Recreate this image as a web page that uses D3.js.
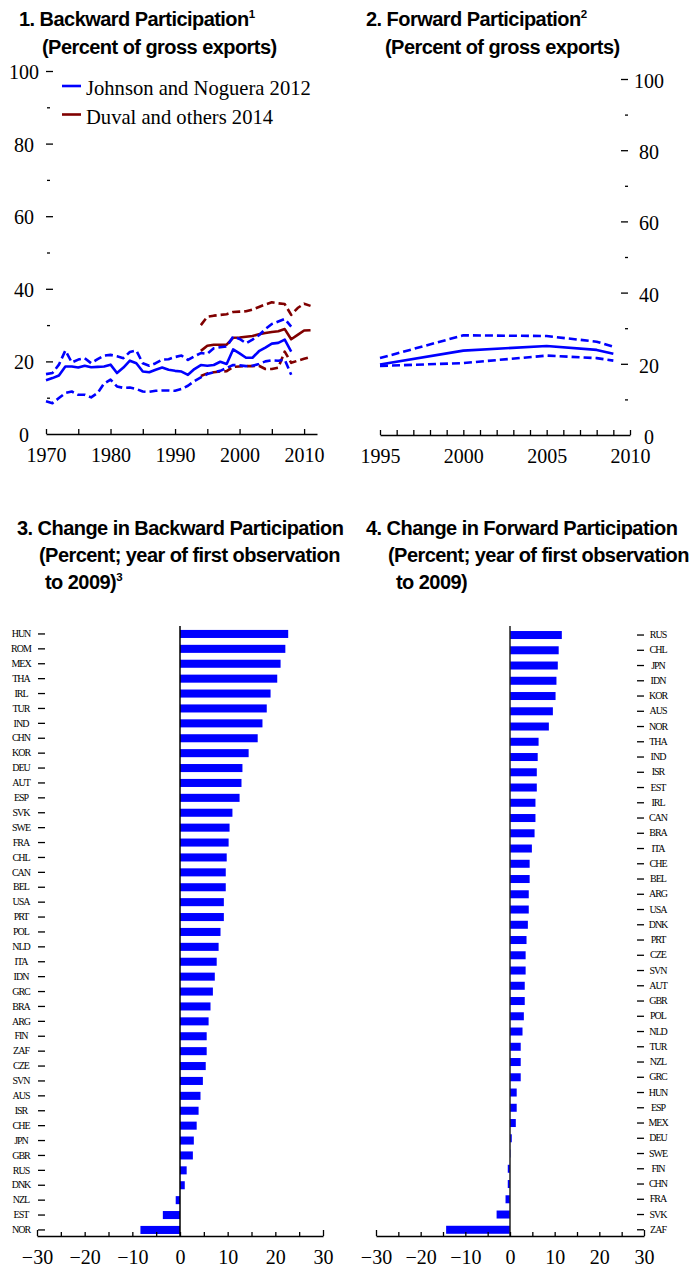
<!DOCTYPE html>
<html><head><meta charset="utf-8">
<script src="https://cdn.jsdelivr.net/npm/d3@7"></script>
<style>body{margin:0;background:#fff}svg{display:block}</style>
</head><body><svg id="c" width="689" height="1270"></svg>
<script>
// ---------- Panel 1 data ----------
const jnYears = [1970,1971,1972,1973,1974,1975,1976,1977,1978,1979,1980,1981,1982,1983,1984,1985,1986,1987,1988,1989,1990,1991,1992,1993,1994,1995,1996,1997,1998,1999,2000,2001,2002,2003,2004,2005,2006,2007,2008];
const jnMedian = [14.8,15.4,16.1,18.6,18.6,18.3,18.8,18.4,18.5,18.6,19.1,16.8,18.3,20.2,19.5,17.2,17.0,17.7,18.3,17.7,17.4,17.2,16.3,17.9,19.0,18.8,19.0,19.9,19.3,23.3,22.2,21.0,21.0,22.8,23.8,24.9,25.1,26.0,22.7];
const jnUpper = [16.5,16.8,19.1,23.0,19.7,20.5,20.9,19.5,20.6,21.6,21.8,21.4,20.9,22.6,23.0,19.5,18.8,19.5,20.5,20.6,21.2,21.6,20.4,21.4,22.3,22.1,23.6,23.9,24.1,26.8,26.2,25.0,26.0,27.2,28.9,30.3,31.0,31.7,29.6];
const jnLower = [9.0,8.5,9.9,11.3,11.7,10.8,10.8,10.1,11.3,13.9,15.0,13.1,12.7,12.8,12.4,11.7,11.6,11.9,12.0,12.0,11.9,12.4,13.3,14.6,15.6,16.5,17.0,17.4,18.2,19.0,18.9,18.7,18.8,19.3,20.0,20.3,20.2,20.5,16.3];
const duvalYears = [1994,1995,1996,1997,1998,1999,2000,2001,2002,2003,2004,2005,2006,2007,2008,2009,2010,2011];
const duvalMedian = [22.9,24.3,24.6,24.6,24.6,26.5,26.6,26.8,27.0,27.5,27.8,28.1,28.3,28.9,26.1,27.3,28.5,28.6];
const duvalUpper = [30.0,32.3,32.6,32.8,33.0,33.6,33.7,33.8,34.3,35.0,35.7,36.3,36.0,35.8,32.8,34.7,35.9,35.3];
const duvalLower = [16.0,16.7,17.0,17.2,17.3,18.5,18.6,18.7,18.7,18.8,17.9,17.9,18.3,22.7,19.6,20.2,20.7,21.2];
const legendLabels = ["Johnson and Noguera 2012","Duval and others 2014"];
const p1XTicks = [1970,1975,1980,1985,1990,1995,2000,2005,2010];
const p1XLabels = [1970,1980,1990,2000,2010];

// ---------- Panel 2 data ----------
const fwdYears = [1995,2000,2005,2008,2009];
const fwdMedian = [19.8,23.7,25.0,23.9,22.8];
const fwdUpper = [21.6,28.0,27.8,26.2,24.8];
const fwdLower = [19.4,20.2,22.3,21.6,20.9];
const p2XTicks = [1995,1996,1997,1998,1999,2000,2001,2002,2003,2004,2005,2006,2007,2008,2009,2010];
const p2XLabels = [1995,2000,2005,2010];

const yMajor = [0,20,40,60,80,100];
const yMinor = [10,30,50,70,90];

// ---------- Panel 3 data ----------
const backCountries = ["HUN","ROM","MEX","THA","IRL","TUR","IND","CHN","KOR","DEU","AUT","ESP","SVK","SWE","FRA","CHL","CAN","BEL","USA","PRT","POL","NLD","ITA","IDN","GRC","BRA","ARG","FIN","ZAF","CZE","SVN","AUS","ISR","CHE","JPN","GBR","RUS","DNK","NZL","EST","NOR"];
const backChange = [22.7,22.1,21.1,20.4,19.0,18.2,17.3,16.3,14.4,13.1,12.9,12.5,11.0,10.4,10.2,9.8,9.6,9.6,9.2,9.2,8.5,8.1,7.7,7.3,6.9,6.4,6.0,5.6,5.6,5.4,4.8,4.3,3.9,3.5,2.9,2.7,1.4,1.0,-0.9,-3.6,-8.3];

// ---------- Panel 4 data ----------
const fwdCountries = ["RUS","CHL","JPN","IDN","KOR","AUS","NOR","THA","IND","ISR","EST","IRL","CAN","BRA","ITA","CHE","BEL","ARG","USA","DNK","PRT","CZE","SVN","AUT","GBR","POL","NLD","TUR","NZL","GRC","HUN","ESP","MEX","DEU","SWE","FIN","CHN","FRA","SVK","ZAF"];
const fwdChange = [11.6,10.9,10.7,10.4,10.2,9.6,8.7,6.4,6.2,6.0,6.0,5.7,5.7,5.5,4.9,4.4,4.4,4.2,4.2,4.0,3.7,3.5,3.5,3.3,3.3,3.1,2.8,2.4,2.4,2.4,1.5,1.5,1.3,0.4,0.1,-0.5,-0.5,-1.0,-3.0,-14.3];
const barTicks = [-30,-25,-20,-15,-10,-5,0,5,10,15,20,25,30];

// ---------- Styles ----------
const BLUE = "#0000ff", RED = "#800000";
const SERIF = "'Liberation Serif','Times New Roman',serif";
const SANS = "'Liberation Sans',Arial,sans-serif";

const svg = d3.select("#c");
svg.append("rect").attr("width",689).attr("height",1270).attr("fill","#fff");

function title(x, y, parts) {
  const t = svg.append("text").attr("x", x).attr("y", y)
    .attr("font-family", SANS).attr("font-weight", "bold")
    .attr("font-size", 20).attr("letter-spacing", -0.55).attr("fill", "#000");
  parts.forEach(p => {
    const ts = t.append("tspan").text(p[0]);
    if (p[1]) ts.attr("font-size", 11.5).attr("baseline-shift", "65%");
  });
}

function styleAxis(g) {
  g.select(".domain").attr("stroke","#000").attr("stroke-width",1.5);
  g.selectAll(".tick line").attr("stroke","#000").attr("stroke-width",1.3);
  g.selectAll(".tick text").attr("font-family", SERIF).attr("font-size", 20).attr("fill","#000");
}

// ---------- Panel 1 ----------
title(19, 26, [["1. Backward Participation"],["1",true]]);
title(42, 54, [["(Percent of gross exports)"]]);

const x1 = d3.scaleLinear().domain([1970, 2012]).range([46, 317]);
const y1 = d3.scaleLinear().domain([0, 100]).range([434, 71]);

const g1x = svg.append("g").attr("transform","translate(0,434)")
  .call(d3.axisBottom(x1).tickValues(p1XTicks).tickSizeInner(-5).tickSizeOuter(0)
    .tickFormat(d => p1XLabels.includes(d) ? d : ""));
styleAxis(g1x);
g1x.selectAll(".tick text").attr("y", 28).attr("dy", 0);

const g1y = svg.append("g").attr("transform","translate(53,0)")
  .call(d3.axisLeft(y1).tickValues(yMajor).tickSize(7).tickFormat(d3.format("d")));
styleAxis(g1y);
g1y.select(".domain").remove();
g1y.selectAll(".tick").filter(d => d === 0).select("line").remove();
g1y.selectAll(".tick text").attr("x", -29).attr("text-anchor","middle").attr("dy", 7.5);
const g1m = svg.append("g").attr("transform","translate(50,0)")
  .call(d3.axisLeft(y1).tickValues(yMinor).tickSize(3).tickFormat(""));
styleAxis(g1m); g1m.select(".domain").remove();

function drawLine(xs, ys, years, vals, color, dashed) {
  const line = d3.line().x(d => xs(d[0])).y(d => ys(d[1]));
  svg.append("path").datum(years.map((yr, i) => [yr, vals[i]]))
    .attr("d", line).attr("fill","none").attr("stroke", color)
    .attr("stroke-width", 2.6).attr("stroke-linejoin","round")
    .attr("stroke-dasharray", dashed ? "8,4" : null);
}
drawLine(x1, y1, duvalYears, duvalUpper, RED, true);
drawLine(x1, y1, duvalYears, duvalLower, RED, true);
drawLine(x1, y1, duvalYears, duvalMedian, RED, false);
drawLine(x1, y1, jnYears, jnUpper, BLUE, true);
drawLine(x1, y1, jnYears, jnLower, BLUE, true);
drawLine(x1, y1, jnYears, jnMedian, BLUE, false);

// legend
[BLUE, RED].forEach((c, i) => {
  const ly = 86 + i * 28.5;
  svg.append("line").attr("x1", 62).attr("x2", 81).attr("y1", ly).attr("y2", ly)
    .attr("stroke", c).attr("stroke-width", 2.6);
  svg.append("text").attr("x", 86).attr("y", ly + 9).text(legendLabels[i])
    .attr("font-family", SERIF).attr("font-size", 20.6).attr("fill","#000");
});

// ---------- Panel 2 ----------
title(366, 26, [["2. Forward Participation"],["2",true]]);
title(385, 54, [["(Percent of gross exports)"]]);

const x2 = d3.scaleLinear().domain([1995, 2010]).range([380, 630]);
const y2 = d3.scaleLinear().domain([0, 100]).range([435, 79]);

const g2x = svg.append("g").attr("transform","translate(0,435)")
  .call(d3.axisBottom(x2).tickValues(p2XTicks).tickSizeInner(-5).tickSizeOuter(0)
    .tickFormat(d => p2XLabels.includes(d) ? d : ""));
styleAxis(g2x);
g2x.selectAll(".tick text").attr("y", 28).attr("dy", 0);

const g2y = svg.append("g").attr("transform","translate(621,0)")
  .call(d3.axisRight(y2).tickValues(yMajor).tickSize(7).tickFormat(d3.format("d")));
styleAxis(g2y);
g2y.select(".domain").remove();
g2y.selectAll(".tick").filter(d => d === 0).select("line").remove();
g2y.selectAll(".tick text").attr("x", 28).attr("text-anchor","middle").attr("dy", 8.5);
const g2m = svg.append("g").attr("transform","translate(625,0)")
  .call(d3.axisRight(y2).tickValues(yMinor).tickSize(3).tickFormat(""));
styleAxis(g2m); g2m.select(".domain").remove();

drawLine(x2, y2, fwdYears, fwdUpper, BLUE, true);
drawLine(x2, y2, fwdYears, fwdLower, BLUE, true);
drawLine(x2, y2, fwdYears, fwdMedian, BLUE, false);

// ---------- Panel 3 ----------
title(17, 535, [["3. Change in Backward Participation"]]);
title(39, 562, [["(Percent; year of first observation"]]);
title(45, 589, [["to 2009)"],["3",true]]);

const x3 = d3.scaleLinear().domain([-30, 30]).range([37, 323]);
const b3 = d3.scaleBand().domain(backCountries).range([626.5, 626.5 + 41 * 14.9])
  .paddingInner(0.46).paddingOuter(0.23);

svg.append("g").selectAll("rect").data(backCountries).join("rect")
  .attr("x", (d, i) => x3(Math.min(0, backChange[i])))
  .attr("width", (d, i) => Math.abs(x3(backChange[i]) - x3(0)))
  .attr("y", d => b3(d)).attr("height", b3.bandwidth()).attr("fill", BLUE);

svg.append("line").attr("x1", x3(0)).attr("x2", x3(0)).attr("y1", 626).attr("y2", 1236)
  .attr("stroke","#000").attr("stroke-width",1.5);

const g3c = svg.append("g").attr("transform","translate(45,0)")
  .call(d3.axisLeft(b3).tickSize(7));
g3c.select(".domain").remove();
g3c.selectAll(".tick line").attr("stroke","#000").attr("stroke-width",1.3);
g3c.selectAll(".tick text").attr("x", -24).attr("text-anchor","middle")
  .attr("font-family", SERIF).attr("font-size", 10).attr("letter-spacing", -1).attr("fill","#000");

const fmtBar = d => (d % 10 === 0) ? d3.format("d")(d) : "";
const g3x = svg.append("g").attr("transform","translate(0,1236)")
  .call(d3.axisBottom(x3).tickValues(barTicks).tickSizeInner(-4).tickSizeOuter(0).tickFormat(fmtBar));
styleAxis(g3x);
g3x.selectAll(".tick text").attr("y", 28).attr("dy", 0);
g3x.selectAll(".tick line").filter(d => Math.abs(d) === 30).attr("y2", -6);

// ---------- Panel 4 ----------
title(366, 535, [["4. Change in Forward Participation"]]);
title(388, 562, [["(Percent; year of first observation"]]);
title(396, 589, [["to 2009)"]]);

const x4 = d3.scaleLinear().domain([-30, 30]).range([376, 644]);
const b4 = d3.scaleBand().domain(fwdCountries).range([627.4, 627.4 + 40 * 15.25])
  .paddingInner(0.475).paddingOuter(0.2375);

svg.append("g").selectAll("rect").data(fwdCountries).join("rect")
  .attr("x", (d, i) => x4(Math.min(0, fwdChange[i])))
  .attr("width", (d, i) => Math.abs(x4(fwdChange[i]) - x4(0)))
  .attr("y", d => b4(d)).attr("height", b4.bandwidth()).attr("fill", BLUE);

svg.append("line").attr("x1", x4(0)).attr("x2", x4(0)).attr("y1", 626).attr("y2", 1236)
  .attr("stroke","#222").attr("stroke-width",1.5);

const g4c = svg.append("g").attr("transform","translate(637,0)")
  .call(d3.axisRight(b4).tickSize(7));
g4c.select(".domain").remove();
g4c.selectAll(".tick line").attr("stroke","#000").attr("stroke-width",1.3);
g4c.selectAll(".tick text").attr("x", 21).attr("text-anchor","middle")
  .attr("font-family", SERIF).attr("font-size", 10).attr("letter-spacing", -1).attr("fill","#000");

const g4x = svg.append("g").attr("transform","translate(0,1236)")
  .call(d3.axisBottom(x4).tickValues(barTicks).tickSizeInner(-4).tickSizeOuter(0).tickFormat(fmtBar));
styleAxis(g4x);
g4x.selectAll(".tick text").attr("y", 28).attr("dy", 0);
g4x.selectAll(".tick line").filter(d => Math.abs(d) === 30).attr("y2", -6);
</script>
</body></html>
